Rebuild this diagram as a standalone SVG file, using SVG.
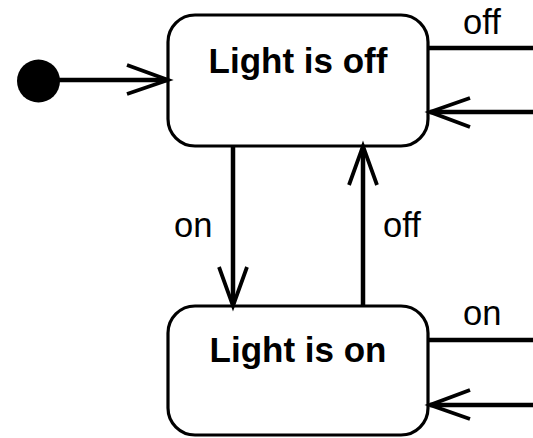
<svg xmlns="http://www.w3.org/2000/svg" width="533" height="438" viewBox="0 0 533 438">
  <style>
    .state { fill: #ffffff; stroke: #000000; stroke-width: 3.2; }
    .name { font-family: "Liberation Sans", Arial, sans-serif; font-weight: bold; font-size: 35px; fill: #000000; text-anchor: middle; }
    .label { font-family: "Liberation Sans", Arial, sans-serif; font-size: 34.5px; fill: #000000; }
    .edge { fill: none; stroke: #000000; stroke-width: 4.5; }
    .head { fill: none; stroke: #000000; stroke-width: 3.8; stroke-linecap: butt; stroke-linejoin: miter; }
  </style>
  <rect width="533" height="438" fill="#ffffff"/>

  <g id="initial">
    <circle cx="38.5" cy="81" r="21.5" fill="#000000"/>
  </g>

  <g id="light-off">
    <rect class="state" x="168" y="15" width="260" height="131" rx="27" ry="27"/>
    <text class="name" x="298" y="73">Light is off</text>
  </g>

  <g id="light-on">
    <rect class="state" x="168" y="306" width="260" height="129" rx="27" ry="27"/>
    <text class="name" x="298" y="362">Light is on</text>
  </g>

  <g id="connectors">
    <!-- initial -> Light is off -->
    <line class="edge" x1="55" y1="80" x2="168" y2="80"/>
    <polyline class="head" points="127,65 168,80 127,94"/>

    <!-- Light is off -> Light is on (on) -->
    <line class="edge" x1="233" y1="146" x2="233" y2="304"/>
    <polyline class="head" points="219,267 233,306 247,267"/>
    <text class="label" x="174" y="237">on</text>

    <!-- Light is on -> Light is off (off) -->
    <line class="edge" x1="363" y1="306" x2="363" y2="148"/>
    <polyline class="head" points="349,185 363,146 377,185"/>
    <text class="label" x="383" y="237">off</text>

    <!-- self transition on Light is off -->
    <line class="edge" x1="428" y1="48" x2="533" y2="48"/>
    <line class="edge" x1="533" y1="112" x2="430" y2="112"/>
    <polyline class="head" points="470,98 430,112 470,127"/>
    <text class="label" x="463" y="34">off</text>

    <!-- self transition on Light is on -->
    <line class="edge" x1="428" y1="340" x2="533" y2="340"/>
    <line class="edge" x1="533" y1="405" x2="430" y2="405"/>
    <polyline class="head" points="470,390 430,405 470,419"/>
    <text class="label" x="463" y="325">on</text>
  </g>
</svg>
